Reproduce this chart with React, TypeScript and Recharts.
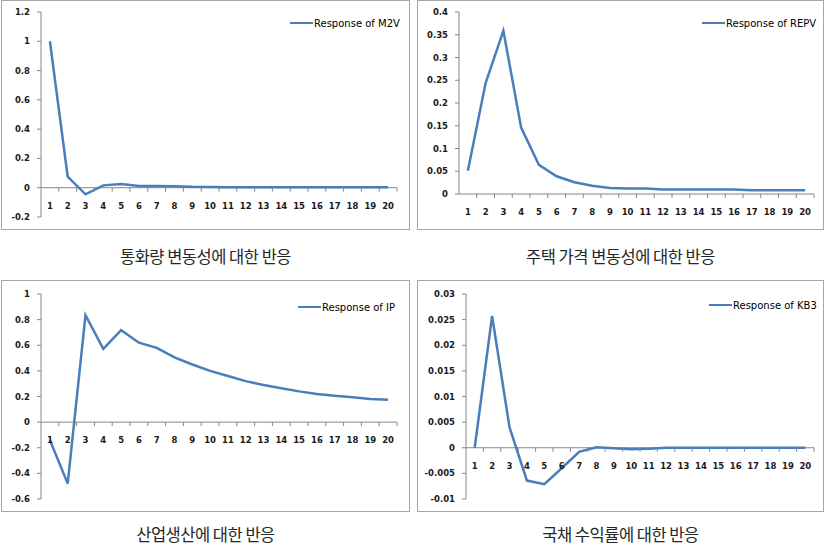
import { LineChart, Line, XAxis, YAxis, ReferenceLine, Legend } from 'recharts';

const periods = ['1', '2', '3', '4', '5', '6', '7', '8', '9', '10', '11', '12', '13', '14', '15', '16', '17', '18', '19', '20'];

const m2vResponse = [1.0, 0.075, -0.045, 0.016, 0.025, 0.012, 0.011, 0.01, 0.006, 0.005, 0.004, 0.004, 0.004, 0.004, 0.004, 0.004, 0.004, 0.004, 0.003, 0.003];
const repvResponse = [0.051, 0.244, 0.359, 0.146, 0.064, 0.039, 0.026, 0.018, 0.013, 0.012, 0.012, 0.01, 0.01, 0.01, 0.01, 0.01, 0.008, 0.008, 0.008, 0.008];
const ipResponse = [-0.14, -0.48, 0.835, 0.572, 0.718, 0.62, 0.58, 0.505, 0.45, 0.4, 0.36, 0.32, 0.29, 0.265, 0.24, 0.22, 0.205, 0.195, 0.18, 0.175];
const kb3Response = [0, 0.0257, 0.004, -0.0064, -0.0071, -0.004, -0.0008, 0.0001, -0.0001, -0.0003, -0.0002, 0, 0, 0, 0, 0, 0, 0, 0, 0];

const m2vTicks = [-0.2, 0, 0.2, 0.4, 0.6, 0.8, 1, 1.2];
const repvTicks = [0, 0.05, 0.1, 0.15, 0.2, 0.25, 0.3, 0.35, 0.4];
const ipTicks = [-0.6, -0.4, -0.2, 0, 0.2, 0.4, 0.6, 0.8, 1];
const kb3Ticks = [-0.01, -0.005, 0, 0.005, 0.01, 0.015, 0.02, 0.025, 0.03];

const LINE = '#4a7ebb';
const AXIS = '#868686';
const FONT = '"DejaVu Sans", Verdana, sans-serif';
const X_AXIS_H = 1;
const tickStyle = { fontSize: 8.5, fontFamily: FONT, fontWeight: 'bold', fill: '#1a1a1a' };

type PanelProps = {
  name: string;
  values: number[];
  ticks: number[];
  caption: string;
  left: number;
  top: number;
  width: number;
  height: number;
  yAxisWidth: number;
  margin: { top: number; right: number; bottom: number; left: number };
  legendPos: { left: number; top: number };
  captionTop: number;
};

function Panel(p: PanelProps) {
  const data = periods.map((period, i) => ({ period, value: p.values[i] }));
  const min = p.ticks[0];
  const max = p.ticks[p.ticks.length - 1];
  const plotH = p.height - p.margin.top - p.margin.bottom - X_AXIS_H;
  const plotW = p.width - p.margin.left - p.margin.right - p.yAxisWidth;
  const zeroY = p.margin.top + (max / (max - min)) * plotH;
  const band = plotW / periods.length;

  // Excel-style category axis that crosses at zero
  const XTick = (props: any) => {
    const { x, payload } = props;
    return (
      <g>
        <line x1={x + band / 2} x2={x + band / 2} y1={zeroY} y2={zeroY + 4} stroke={AXIS} />
        <text x={x} y={zeroY + 21} textAnchor="middle" {...tickStyle}>
          {payload.value}
        </text>
      </g>
    );
  };

  return (
    <>
      <div
        style={{
          position: 'absolute',
          left: p.left,
          top: p.top,
          width: p.width,
          height: p.height + 1,
          border: '1px solid #a6a6a6',
          boxSizing: 'border-box',
        }}
      />
      <div style={{ position: 'absolute', left: p.left, top: p.top }}>
        <LineChart width={p.width} height={p.height} data={data} margin={p.margin}>
          <XAxis
            dataKey="period"
            scale="band"
            height={X_AXIS_H}
            axisLine={false}
            tickLine={false}
            interval={0}
            tick={XTick}
          />
          <YAxis
            width={p.yAxisWidth}
            domain={[min, max]}
            ticks={p.ticks}
            interval={0}
            stroke={AXIS}
            tickSize={4}
            tickMargin={7}
            tick={tickStyle}
            allowDataOverflow
          />
          <ReferenceLine y={0} stroke={AXIS} />
          <Legend
            layout="horizontal"
            align="center"
            verticalAlign="middle"
            wrapperStyle={{ left: p.legendPos.left, top: p.legendPos.top, width: 'auto' }}
            content={() => (
              <div style={{ display: 'flex', alignItems: 'center', fontFamily: FONT, fontSize: 10, color: '#000' }}>
                <svg width={24} height={12}>
                  <line x1={0} x2={23} y1={6} y2={6} stroke={LINE} strokeWidth={2} />
                </svg>
                <span style={{ whiteSpace: 'nowrap' }}>{p.name}</span>
              </div>
            )}
          />
          <Line
            type="linear"
            dataKey="value"
            name={p.name}
            stroke={LINE}
            strokeWidth={2.5}
            dot={false}
            activeDot={false}
            isAnimationActive={false}
          />
        </LineChart>
      </div>
      <div
        style={{
          position: 'absolute',
          left: p.left,
          top: p.captionTop,
          width: p.width,
          textAlign: 'center',
          fontFamily: '"Noto Sans CJK KR", sans-serif',
          fontSize: 16.5,
          lineHeight: '14px',
          letterSpacing: -0.5,
          color: '#262626',
        }}
      >
        {p.caption}
      </div>
    </>
  );
}

export default function App() {
  return (
    <div style={{ position: 'absolute', left: 0, top: 0, width: 827, height: 546, background: '#fff' }}>
      <Panel
        name="Response of M2V"
        values={m2vResponse}
        ticks={m2vTicks}
        caption="통화량 변동성에 대한 반응"
        left={1}
        top={0}
        width={409}
        height={229}
        yAxisWidth={40}
        margin={{ top: 12, right: 13, bottom: 11, left: 0 }}
        legendPos={{ left: 289, top: 17 }}
        captionTop={249}
      />
      <Panel
        name="Response of REPV"
        values={repvResponse}
        ticks={repvTicks}
        caption="주택 가격 변동성에 대한 반응"
        left={417}
        top={0}
        width={407}
        height={229}
        yAxisWidth={42}
        margin={{ top: 12, right: 10, bottom: 34, left: 0 }}
        legendPos={{ left: 285, top: 17 }}
        captionTop={249}
      />
      <Panel
        name="Response of IP"
        values={ipResponse}
        ticks={ipTicks}
        caption="산업생산에 대한 반응"
        left={1}
        top={280}
        width={409}
        height={231}
        yAxisWidth={40}
        margin={{ top: 14, right: 13, bottom: 11, left: 0 }}
        legendPos={{ left: 297, top: 21 }}
        captionTop={527}
      />
      <Panel
        name="Response of KB3"
        values={kb3Response}
        ticks={kb3Ticks}
        caption="국채 수익률에 대한 반응"
        left={417}
        top={280}
        width={407}
        height={231}
        yAxisWidth={49}
        margin={{ top: 14, right: 10, bottom: 11, left: 0 }}
        legendPos={{ left: 292, top: 19 }}
        captionTop={527}
      />
    </div>
  );
}
